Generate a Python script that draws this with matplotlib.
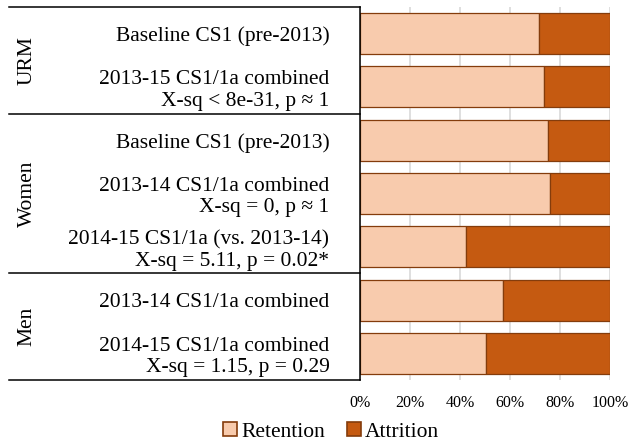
import matplotlib
matplotlib.use("Agg")
import matplotlib.pyplot as plt
from matplotlib.lines import Line2D
from matplotlib.patches import Patch
import numpy as np

plt.rcParams['font.family'] = ['Liberation Serif', 'DejaVu Serif']

labels = [
    "Baseline CS1 (pre-2013)",
    "2013-15 CS1/1a combined\nX-sq < 8e-31, p \u2248 1",
    "Baseline CS1 (pre-2013)",
    "2013-14 CS1/1a combined\nX-sq = 0, p \u2248 1",
    "2014-15 CS1/1a (vs. 2013-14)\nX-sq = 5.11, p = 0.02*",
    "2013-14 CS1/1a combined",
    "2014-15 CS1/1a combined\nX-sq = 1.15, p = 0.29",
]
groups = ["URM", "Women", "Men"]
group_sizes = [2, 3, 2]
retention = [71.5, 73.7, 75.2, 76.0, 42.3, 57.2, 50.5]
attrition = [100 - r for r in retention]

c_ret = '#F8CBAD'
c_att = '#C55A11'
c_edge = '#843C0C'

fig = plt.figure(figsize=(6.35, 4.45), dpi=100)
ax = fig.add_axes([360/635, 65/445, 250/635, 373/445])

y = np.arange(len(labels))
ax.barh(y, retention, height=0.77, color=c_ret, edgecolor=c_edge, linewidth=0.9, zorder=3)
ax.barh(y, attrition, left=retention, height=0.77, color=c_att, edgecolor=c_edge, linewidth=0.9, zorder=3)

ax.set_xlim(0, 100)
ax.set_ylim(6.5, -0.5)
ax.set_xticks(np.arange(0, 101, 20))
ax.set_xticklabels([f"{v}%" for v in range(0, 101, 20)], fontsize=11.5)
ax.grid(axis='x', color='#D9D9D9', linewidth=1.2, zorder=0)
ax.tick_params(axis='x', length=0, pad=11)
ax.set_yticks(y)
ax.set_yticklabels(labels, fontsize=15.5, linespacing=1.15, ha='right', multialignment='right')
ax.tick_params(axis='y', length=0, pad=22)
for s in ax.spines.values():
    s.set_visible(False)

# table lines on the left
bounds = np.concatenate([[0], np.cumsum(group_sizes)]) - 0.5
for b in bounds:
    ax.add_line(Line2D([-1.404, 0], [b, b], transform=ax.get_yaxis_transform(),
                       color='black', linewidth=1.1, clip_on=False))
ax.add_line(Line2D([0, 0], [bounds[0], bounds[-1]], transform=ax.get_yaxis_transform(),
                   color='black', linewidth=1.1, clip_on=False, zorder=4))

for g, lo, hi in zip(groups, bounds[:-1], bounds[1:]):
    ax.text(-1.332, (lo + hi) / 2, g, transform=ax.get_yaxis_transform(), rotation=90,
            ha='center', va='center', fontsize=15.5)

handles = [Patch(facecolor=c_ret, edgecolor=c_edge, linewidth=1.2, label='Retention'),
           Patch(facecolor=c_att, edgecolor=c_edge, linewidth=1.2, label='Attrition')]
fig.legend(handles=handles, loc='center', bbox_to_anchor=(331/635, 1 - 432/445), ncol=2,
           frameon=False, prop={'family': 'Liberation Serif', 'size': 15.5},
           handlelength=0.65, handleheight=0.65,
           handletextpad=0.2, columnspacing=1.0, borderpad=0)

fig.savefig('out.png', dpi=100)
